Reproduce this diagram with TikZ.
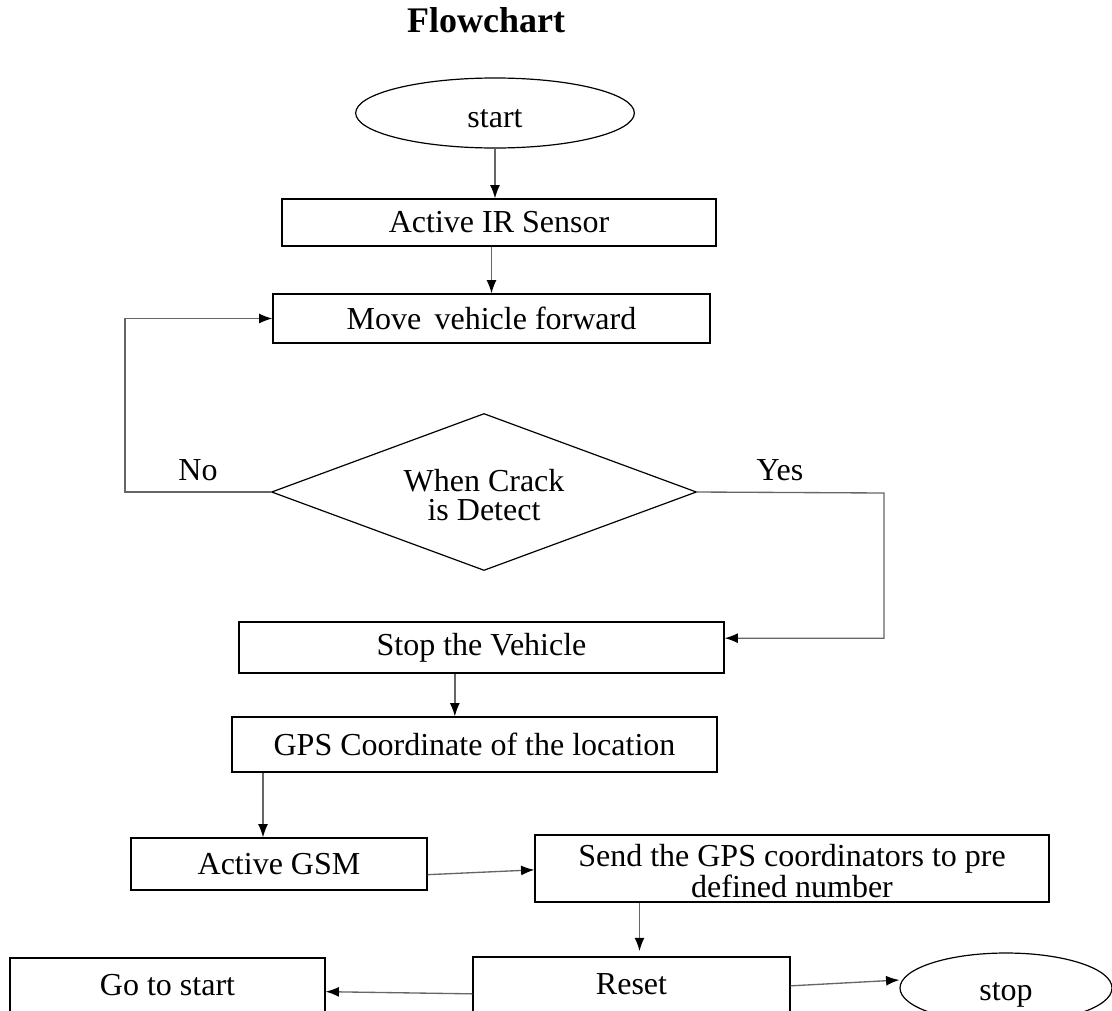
\documentclass[tikz,border=0pt]{standalone}
\usepackage{fontspec}
\setmainfont{Liberation Serif}
\usetikzlibrary{arrows.meta,positioning,shapes.geometric,calc}

\begin{document}
\begin{tikzpicture}[x=0.75pt,y=-0.75pt,>=Latex,
 box/.style={draw,line width=0.9pt,inner sep=0pt,align=center,font=\fontsize{24}{22}\selectfont},
 term/.style={draw,ellipse,line width=0.9pt,inner sep=0pt,font=\fontsize{24}{22}\selectfont},
 lbl/.style={font=\fontsize{24}{22}\selectfont},
 arr/.style={-{Latex[length=10pt,width=7.5pt,color=black]},line width=1pt,draw=black!60}]
\useasboundingbox (0,0) rectangle (1112,1010);
\node[font=\fontsize{27}{32}\selectfont\bfseries] (title) at (486,20) {Flowchart};
\node[term,minimum width=209pt,minimum height=52.5pt,text height=22pt,text depth=0pt] (start) at (495,113) {start};
\node[box,minimum width=325.5pt,minimum height=35.25pt] (sensor) at (499,222.5) {Active IR Sensor};
\node[box,minimum width=327.75pt,minimum height=36.75pt] (move) at (491.5,318.5) {Move\, vehicle forward};
\node[draw,diamond,line width=0.9pt,inner sep=0pt,minimum width=318.75pt,minimum height=117.75pt] (crack) at (484,492) {};
\node[lbl,align=center] (cracktxt) at (484,495) {When Crack\\is Detect};
\node[box,minimum width=363.75pt,minimum height=38.25pt] (stopv) at (481.5,647.5) {Stop the Vehicle};
\node[box,minimum width=363.75pt,minimum height=41.25pt] (gps) at (474.5,744.5) {GPS Coordinate of the location};
\node[box,minimum width=222pt,minimum height=39pt] (gsm) at (279,864) {Active GSM};
\node[box,minimum width=385.5pt,minimum height=50.25pt] (send) at (792,868.5) {};
\node[lbl,align=center] (sendtxt) at (792,871) {Send the GPS coordinators to pre\\defined number};
\node[box,minimum width=237.75pt,minimum height=41.25pt] (reset) at (631.5,984.5) {Reset};
\node[box,minimum width=236.25pt,minimum height=40.5pt] (gostart) at (167.5,985) {Go to start};
\node[term,minimum width=159pt,minimum height=52.5pt,text height=19pt,text depth=0pt] (stop) at (1006,988) {stop};
% main line
\draw[arr] (start) -- (start |- sensor.north);
\draw[arr] (sensor.south -| move.north) -- (move.north);
% no / yes branches
\draw[arr] (crack.west) -- ++(-146,0) |- (move.west);
\node[lbl] (no) at (198,470) {No};
\coordinate (yescorner) at (884,493);
\draw[arr] (crack.east) -- (yescorner) |- ([yshift=7pt]stopv.east);
\node[lbl] (yes) at (780,470) {Yes};
\draw[arr] ([xshift=-20pt]stopv.south) -- ([xshift=-20pt]stopv.south |- gps.north);
\draw[arr] ([xshift=-12pt]gsm.north |- gps.south) -- ([xshift=-12pt]gsm.north);
\draw[arr] ([yshift=-8pt]gsm.east) -- ([yshift=-1pt]send.west);
\draw[arr] ([xshift=6pt]reset.north |- send.south) -- ([xshift=6pt,yshift=4pt]reset.north);
\draw[arr] ([yshift=-7pt]reset.west) -- ([yshift=-5pt]gostart.east);
\draw[arr] ([yshift=-1pt]reset.east) -- ([yshift=6pt]stop.west);
\end{tikzpicture}
\end{document}
